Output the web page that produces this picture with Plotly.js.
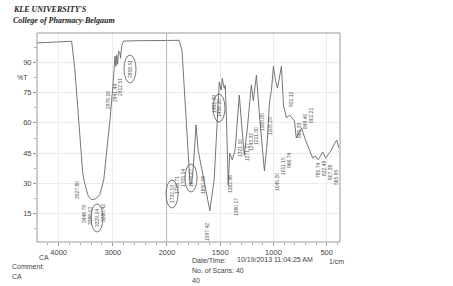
<!DOCTYPE html>
<html>
<head>
<meta charset="utf-8">
<script src="https://cdn.plot.ly/plotly-3.0.1.min.js"></script>
<style>html,body{margin:0;padding:0;background:#fff;}#chart{width:453px;height:286px;}</style>
</head>
<body>
<div id="chart"></div>
<script>
// Spectrum, 4400-2000 1/cm (compressed scale)
const wnHigh = [4400, 4100, 3760, 3700, 3611, 3556, 3527.8, 3463, 3420, 3389, 3340, 3315, 3241, 3167, 3092, 3050, 3000, 2976, 2960, 2943, 2930, 2912, 2895, 2870, 2858, 2835, 2800, 2500, 2200, 2000];
const tHigh  = [99.6, 100.0, 100.4, 86, 56.5, 35.2, 31.0, 24.4, 22.6, 22.0, 22.2, 22.4, 24.4, 31.8, 51.5, 62, 78, 85, 93, 88, 93.5, 89, 95.5, 95, 92, 98.5, 100.5, 100.7, 100.8, 100.8];
// Spectrum, 2000-375 1/cm
const wnLow = [2000, 1887, 1859, 1830, 1802, 1783, 1770, 1755, 1736, 1727, 1708, 1680, 1642, 1604, 1597.42, 1557, 1528, 1509, 1491, 1481, 1462, 1453, 1440, 1425, 1410, 1387, 1360, 1340, 1321, 1300, 1274, 1244, 1208, 1189, 1160, 1132, 1104, 1085, 1057, 1038, 1019, 1000, 981, 962, 925, 906, 877, 849, 802, 785.74, 760, 736, 699, 661, 632, 607, 580, 565, 538, 510, 484, 455, 434, 406, 387];
const tLow  = [100.8, 100.9, 96, 71, 41.7, 29.3, 29.8, 36.7, 51.5, 59, 46.6, 39.2, 29.3, 19.5, 16.5, 31.8, 61.4, 80.1, 76.2, 82, 77, 78.7, 60, 29.3, 45, 41.7, 46.6, 62, 73.7, 60, 44, 58, 78.7, 71, 83.6, 63.9, 46.6, 36.2, 51.5, 69.8, 76.2, 88, 81, 77.2, 88, 68.8, 62.4, 63.9, 60.9, 52.5, 55, 57.4, 51.5, 46.6, 42.6, 43.6, 41.7, 43, 45.6, 42.6, 44.5, 46.6, 49, 51.5, 47.6];

const yTicks = [15, 30, 45, 60, 75, 90];
const xTicksHigh = [4000, 3000];
const xTicksLow = [2000, 1500, 1000, 500];

// peak labels: [text, pixel x, pixel y, circled]
const peakLabels = [
  ["3527.80", 77, 190, false],
  ["3446.79", 84, 214, false],
  ["3386.03", 90, 216, false],
  ["3329.14", 97, 218, true],
  ["3280.42", 103, 213, false],
  ["2976.16", 108, 100, false],
  ["2941.44", 115, 93, false],
  ["2912.51", 120, 87, false],
  ["2858.51", 130, 69, true],
  ["1732.13", 172, 194, true],
  ["1718.71", 177, 185, false],
  ["1705.14", 183, 178, false],
  ["1678.07", 191, 178, true],
  ["1650.06", 203, 185, false],
  ["1597.42", 207, 232, false],
  ["1462.99", 214, 104, false],
  ["1456.20", 219, 108, true],
  ["1382.96", 230, 184, false],
  ["1360.17", 236, 207, false],
  ["1321.10", 240, 148, false],
  ["1271.27", 247, 152, false],
  ["1243.32", 251, 142, false],
  ["1211.30", 256, 136, false],
  ["1165.85", 262, 122, false],
  ["1105.23", 270, 126, false],
  ["1045.20", 277, 182, false],
  ["1011.15", 283, 166, false],
  ["966.74", 289, 160, false],
  ["931.12", 291, 99, false],
  ["885.33", 299, 130, false],
  ["849.40", 305, 121, false],
  ["802.21", 311, 115, false],
  ["785.74", 318, 170, false],
  ["632.49", 324, 168, false],
  ["607.38", 330, 172, false],
  ["565.95", 336, 177, false]
];

const L = 37, R = 340, T = 33, B = 242;
const px = x => (x - L) / (R - L);
const py = y => (B - y) / (B - T);

const annotations = [];
const shapes = [
  {type:'rect', xref:'paper', yref:'paper', x0:0, x1:1, y0:0, y1:1, line:{color:'#999', width:1}},
  {type:'line', xref:'paper', yref:'paper', x0:px(166.6), x1:px(166.6), y0:0, y1:1, line:{color:'#b5b5b5', width:1}}
];
peakLabels.forEach(p => {
  annotations.push({text:p[0], xref:'paper', yref:'paper', x:px(p[1]), y:py(p[2]), showarrow:false,
    textangle:-90, font:{family:'Liberation Sans, Arial', size:5, color:'#555'}, xanchor:'center', yanchor:'middle'});
  if (p[3]) {
    shapes.push({type:'circle', xref:'paper', yref:'paper', x0:px(p[1]-6), x1:px(p[1]+6), y0:py(p[2]+14), y1:py(p[2]-14), line:{color:'#555', width:0.8}});
  }
});

const txt = (s, x, y, opts) => Object.assign({text:s, xref:'paper', yref:'paper', x:px(x), y:py(y), showarrow:false,
  xanchor:'left', yanchor:'middle', font:{family:'Liberation Sans, Arial', size:7, color:'#444'}}, opts || {});

annotations.push(txt("<b><i>KLE UNIVERSITY'S</i></b>", 11, 10, {font:{family:'Liberation Serif, Times New Roman', size:8, color:'#222'}}));
annotations.push(txt("<b><i>College of Pharmacy-Belgaum</i></b>", 11, 20, {font:{family:'Liberation Serif, Times New Roman', size:8, color:'#222'}}));
annotations.push(txt("%T", 30, 77, {xanchor:'right', font:{family:'Liberation Sans, Arial', size:7, color:'#444'}}));
annotations.push(txt("1/cm", 327, 261, {font:{family:'Liberation Sans, Arial', size:7, color:'#444'}}));
annotations.push(txt("CA", 37, 257));
annotations.push(txt("Comment:", 10, 266));
annotations.push(txt("CA", 10, 276));
annotations.push(txt("Date/Time:", 190, 260));
annotations.push(txt("10/19/2013 11:04:25 AM", 235, 259));
annotations.push(txt("No. of Scans: 40", 190, 270));
annotations.push(txt("40", 190, 280));

const f = 0.429;
const tickFont = {family:'Liberation Sans, Arial', size:7.5, color:'#444'};

const data = [
  {x: wnHigh, y: tHigh, xaxis:'x', yaxis:'y', type:'scatter', mode:'lines', line:{color:'#666', width:0.9}, hoverinfo:'skip'},
  {x: wnLow, y: tLow, xaxis:'x2', yaxis:'y', type:'scatter', mode:'lines', line:{color:'#666', width:0.9}, hoverinfo:'skip'}
];

const layout = {
  width:453, height:286,
  margin:{l:L, r:453-R, t:T, b:286-B, pad:0},
  paper_bgcolor:'#fff', plot_bgcolor:'#fff',
  showlegend:false,
  xaxis:{domain:[0, f], range:[4400, 2000], tickvals:xTicksHigh, ticktext:xTicksHigh.map(String),
    showgrid:true, gridcolor:'#ececec', zeroline:false, showline:false, ticks:'outside', ticklen:3, tickcolor:'#999',
    tickfont:tickFont, minor:{tickvals:[4200,3800,3600,3400,3200,2800,2600,2400,2200], ticks:'outside', ticklen:2, tickcolor:'#aaa', showgrid:false}},
  xaxis2:{domain:[f, 1], range:[2000, 375], anchor:'y', tickvals:xTicksLow, ticktext:xTicksLow.map(String),
    showgrid:true, gridcolor:'#ececec', zeroline:false, showline:false, ticks:'outside', ticklen:3, tickcolor:'#999',
    tickfont:tickFont, minor:{tickvals:[1900,1800,1700,1600,1400,1300,1200,1100,900,800,700,600,400], ticks:'outside', ticklen:2, tickcolor:'#aaa', showgrid:false}},
  yaxis:{range:[1, 104.5], tickvals:yTicks, ticktext:yTicks.map(String), showgrid:true, gridcolor:'#ececec',
    zeroline:false, showline:false, ticks:'outside', ticklen:3, tickcolor:'#999', tickfont:tickFont,
    minor:{dtick:7.5, ticks:'outside', ticklen:2, tickcolor:'#aaa', showgrid:false}},
  annotations: annotations,
  shapes: shapes
};

Plotly.newPlot('chart', data, layout, {staticPlot:true, displayModeBar:false});
</script>
</body>
</html>
